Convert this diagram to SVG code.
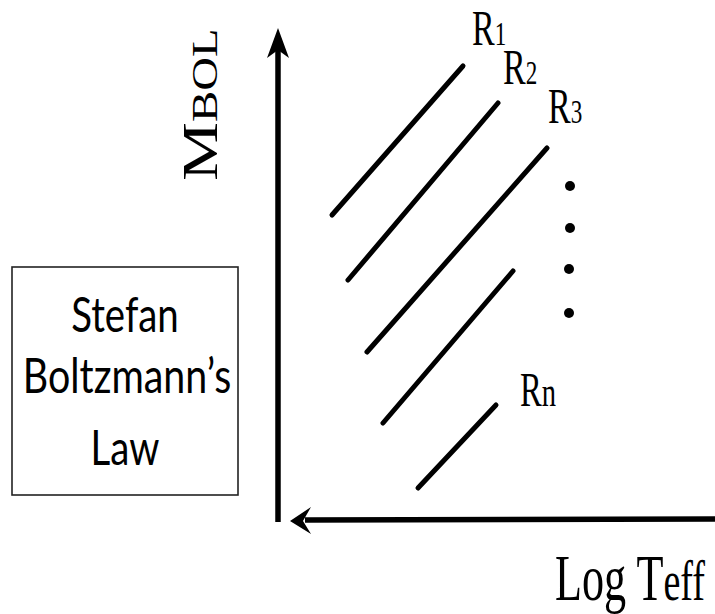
<svg xmlns="http://www.w3.org/2000/svg" width="715" height="614" viewBox="0 0 715 614">
<style>
.serif{font-family:"Liberation Serif","DejaVu Serif",serif;fill:#000}
.sans{font-family:"Lato","Liberation Sans",sans-serif;fill:#000}
.iso{stroke:#000;stroke-width:5;stroke-linecap:round;fill:none}
.axis{stroke:#000;stroke-width:5.5;fill:none}
</style>
<rect width="715" height="614" fill="#fff"/>
<g id="law-box">
<rect x="12" y="267" width="226" height="228" fill="#fff" stroke="#222" stroke-width="1.6"/>
<text class="sans" font-size="48" text-anchor="middle" transform="translate(125,332) scale(0.8,1)">Stefan</text>
<text class="sans" font-size="48" text-anchor="middle" transform="translate(127,393) scale(0.82,1)">Boltzmann’s</text>
<text class="sans" font-size="48" text-anchor="middle" transform="translate(125,465) scale(0.8,1)">Law</text>
</g>
<g id="axes">
<line class="axis" x1="278" y1="45" x2="278" y2="522"/>
<path d="M278,28 L289,58 L278,50 L267,58 Z" fill="#000"/>
<line class="axis" x1="305" y1="520" x2="715" y2="519"/>
<path d="M290,521 L311,507 L303,521 L311,534 Z" fill="#000"/>
</g>
<g id="ylabel">
<text class="serif" transform="translate(217,181) rotate(-90) scale(1.3,1)"><tspan font-size="51">M</tspan><tspan font-size="36">BOL</tspan></text>
</g>
<g id="xlabel">
<text class="serif" transform="translate(555,600) scale(0.68,1)"><tspan font-size="65">Log T</tspan><tspan font-size="56">eff</tspan></text>
</g>
<g id="lines">
<line class="iso" x1="332" y1="215" x2="463" y2="66"/>
<line class="iso" x1="348" y1="280" x2="498" y2="103"/>
<line class="iso" x1="367" y1="352" x2="547" y2="148"/>
<line class="iso" x1="383" y1="423" x2="513" y2="271"/>
<line class="iso" x1="418" y1="488" x2="496" y2="405"/>
</g>
<g id="dots" fill="#000">
<circle cx="570" cy="186" r="5"/>
<circle cx="570" cy="228" r="5"/>
<circle cx="569" cy="269" r="5"/>
<circle cx="569" cy="313" r="5"/>
</g>
<g id="labels">
<text class="serif" transform="translate(472,45) scale(0.68,1)"><tspan font-size="50">R</tspan><tspan font-size="34">1</tspan></text>
<text class="serif" transform="translate(503,84) scale(0.68,1)"><tspan font-size="50">R</tspan><tspan font-size="34">2</tspan></text>
<text class="serif" transform="translate(548,123) scale(0.68,1)"><tspan font-size="50">R</tspan><tspan font-size="34">3</tspan></text>
<text class="serif" transform="translate(520,406) scale(0.68,1)"><tspan font-size="48">R</tspan><tspan font-size="42">n</tspan></text>
</g>
</svg>
